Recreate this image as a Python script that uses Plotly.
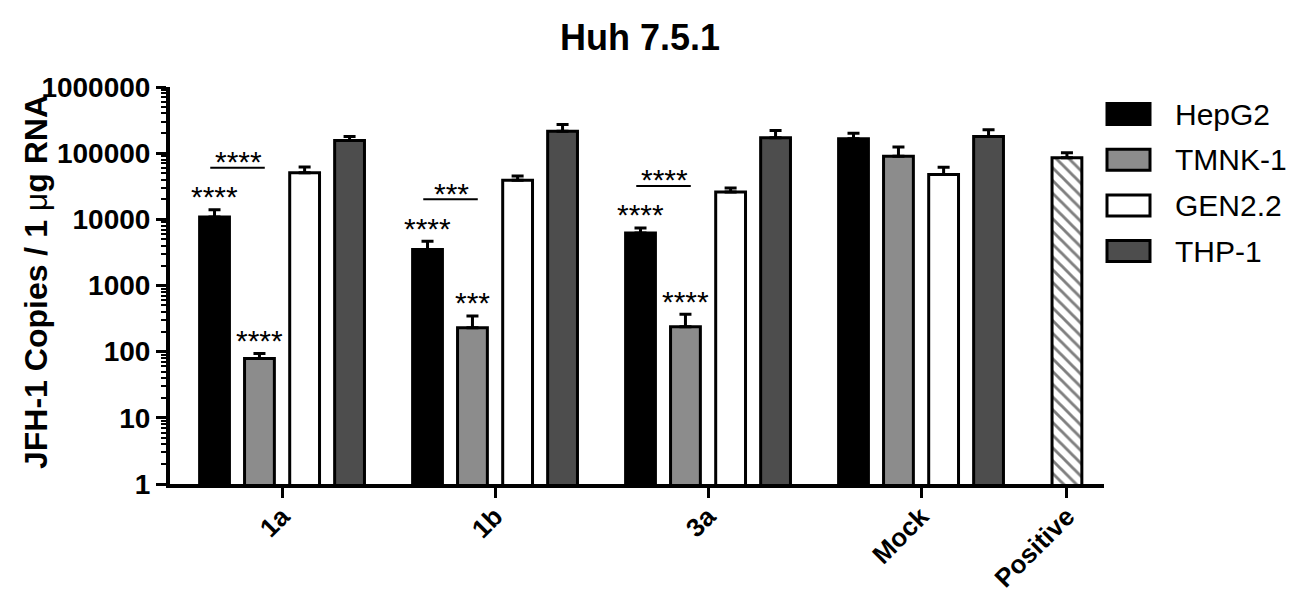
import math
import plotly.graph_objects as go

# ---------------- data ----------------
groups = ["1a", "1b", "3a", "Mock"]
positive_label = "Positive"
series = ["HepG2", "TMNK-1", "GEN2.2", "THP-1"]
colors = ["#000000", "#8c8c8c", "#ffffff", "#4d4d4d"]

hepg2_mean = [10800, 3500, 6200, 165000]
hepg2_top = [14000, 4650, 7400, 200000]
tmnk_mean = [79, 229, 237, 89500]
tmnk_top = [94, 347, 368, 124000]
gen_mean = [50700, 38800, 25900, 47700]
gen_top = [61600, 45000, 29800, 61000]
thp_mean = [155000, 215000, 171000, 179000]
thp_top = [178000, 270000, 220000, 225000]

positive_mean = [85500]
positive_top = [101700]

sig_hepg2 = ["****", "****", "****"]
sig_tmnk = ["****", "***", "****"]
sig_pair = ["****", "***", "****"]

y_tick_vals = [1, 10, 100, 1000, 10000, 100000, 1000000]
y_tick_text = ["1", "10", "100", "1000", "10000", "100000", "1000000"]

means = [hepg2_mean, tmnk_mean, gen_mean, thp_mean]
tops = [hepg2_top, tmnk_top, gen_top, thp_top]

# ---------------- layout helpers ----------------
W, H = 1299, 603
PL, PR, PT, PB = 170, 1104, 87, 484
FONT = "Arial, Liberation Sans, sans-serif"

group_pos = list(range(len(groups)))
positive_pos = 3.685
offsets = [-0.317, -0.106, 0.106, 0.317]
bar_w = 0.14


def px(xp):
    return (xp - PL) / (PR - PL)


def py(yp):
    return (PB - yp) / (PB - PT)


fig = go.Figure()

for i, name in enumerate(series):
    xs = [g + offsets[i] for g in group_pos]
    fig.add_trace(go.Bar(
        x=xs, y=means[i], width=bar_w, name=name,
        marker=dict(color=colors[i], line=dict(color="black", width=3)),
        error_y=dict(type="data", symmetric=False,
                     array=[t - m for t, m in zip(tops[i], means[i])],
                     arrayminus=[0] * len(means[i]),
                     color="black", thickness=3, width=6),
        showlegend=False,
    ))

fig.add_trace(go.Bar(
    x=[positive_pos], y=positive_mean, width=bar_w, name=positive_label,
    marker=dict(color="white", line=dict(color="black", width=3),
                pattern=dict(shape="\\", fgcolor="black", bgcolor="white",
                             size=9, solidity=0.32)),
    error_y=dict(type="data", symmetric=False,
                 array=[t - m for t, m in zip(positive_top, positive_mean)],
                 arrayminus=[0], color="black", thickness=3, width=6),
    showlegend=False,
))

annotations = []
shapes = []
star_font = dict(family="Liberation Sans, Arial", size=30, color="black")

for k in range(len(sig_hepg2)):
    hx = group_pos[k] + offsets[0]
    tx = group_pos[k] + offsets[1]
    annotations.append(dict(x=hx, y=math.log10(hepg2_top[k]), xref="x", yref="y",
                            text=sig_hepg2[k], showarrow=False, yanchor="middle",
                            yshift=13, font=star_font))
    annotations.append(dict(x=tx, y=math.log10(tmnk_top[k]), xref="x", yref="y",
                            text=sig_tmnk[k], showarrow=False, yanchor="middle",
                            yshift=13, font=star_font))
    annotations.append(dict(x=(hx + tx) / 2 + 0.005, y=math.log10(hepg2_top[k]),
                            xref="x", yref="y", text=sig_pair[k], showarrow=False,
                            yanchor="middle", yshift=48, font=star_font))
    shapes.append(dict(type="line", xref="x", yref="y", x0=hx - 0.02, x1=tx + 0.025,
                       ysizemode="pixel", yanchor=hepg2_top[k], y0=42, y1=42,
                       line=dict(color="black", width=2)))

# custom legend
for i, name in enumerate(series):
    yc = 114 + i * 45.7
    shapes.append(dict(type="rect", xref="paper", yref="paper",
                       x0=px(1107), x1=px(1150), y0=py(yc + 10.5), y1=py(yc - 10.5),
                       fillcolor=colors[i], line=dict(color="black", width=3)))
    annotations.append(dict(x=px(1173), y=py(yc), xref="paper", yref="paper",
                            text=name, showarrow=False, xanchor="left", yanchor="middle",
                            font=dict(family=FONT, size=30, color="black")))

# y axis title
annotations.append(dict(x=px(36), y=py(282), xref="paper", yref="paper",
                        text="JFH-1 Copies / 1 <span style='font-weight:normal'>μ</span>g RNA",
                        textangle=-90, showarrow=False,
                        xanchor="center", yanchor="middle",
                        font=dict(family=FONT, size=32, color="black", weight="bold")))

minor_vals = [m * 10 ** d for d in range(6) for m in range(2, 10)]

fig.update_layout(
    width=W, height=H,
    margin=dict(l=PL, r=W - PR, t=PT, b=H - PB, autoexpand=False),
    paper_bgcolor="white", plot_bgcolor="white",
    barmode="overlay",
    title=dict(text="Huh 7.5.1", x=px(640), xref="paper", xanchor="center",
               y=1 - 37 / H, yref="container", yanchor="middle",
               font=dict(family=FONT, size=36, color="black", weight="bold")),
    font=dict(family=FONT, color="black"),
    xaxis=dict(range=[-0.526, 3.859], tickmode="array",
               tickvals=group_pos + [positive_pos], ticktext=groups + [positive_label],
               tickangle=-45, ticks="outside", ticklen=10, tickwidth=3, tickcolor="black",
               ticklabelstandoff=-7,
               showline=True, linewidth=4, linecolor="black", showgrid=False, zeroline=False,
               tickfont=dict(family=FONT, size=26, color="black", weight="bold")),
    yaxis=dict(type="log", range=[0, 6], tickmode="array",
               tickvals=y_tick_vals, ticktext=y_tick_text,
               ticks="outside", ticklen=10, tickwidth=3, tickcolor="black",
               minor=dict(tickmode="array", tickvals=minor_vals, ticks="outside",
                          ticklen=5, tickwidth=2, tickcolor="black", showgrid=False),
               showline=True, linewidth=4, linecolor="black", showgrid=False, zeroline=False,
               tickfont=dict(family=FONT, size=28, color="black", weight="bold")),
    annotations=annotations,
    shapes=shapes,
    showlegend=False,
)

fig.write_html("out.html", config={"displayModeBar": False},
               post_script="document.body.style.margin='0';document.body.style.overflow='hidden';")
